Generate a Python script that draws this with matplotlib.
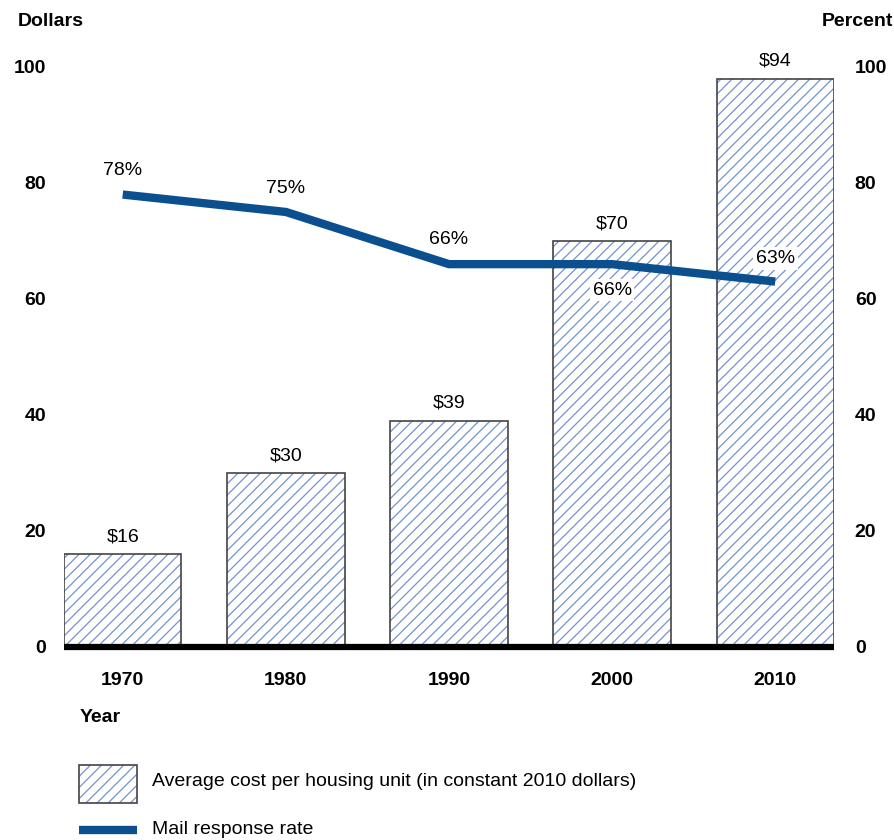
import matplotlib.pyplot as plt
from matplotlib.patches import Rectangle
from matplotlib.lines import Line2D

plt.rcParams['font.family'] = ['Liberation Sans', 'DejaVu Sans']
plt.rcParams['hatch.linewidth'] = 0.9

years = ['1970', '1980', '1990', '2000', '2010']
# bar tops as drawn in the original (the 2010 bar reaches ~98 though labelled $94)
cost_bar = [16, 30, 39, 70, 98]
cost_labels = ['$16', '$30', '$39', '$70', '$94']
response = [78, 75, 66, 66, 63]
response_labels = ['78%', '75%', '66%', '66%', '63%']
y_ticks = [0, 20, 40, 60, 80, 100]

blau = '#0b4f8f'
hatch_col = '#7393cc'

fig = plt.figure(figsize=(8.95, 8.4), dpi=100)
ax = fig.add_axes([0.0715, 0.2298, 0.8603, 0.6905])
x = list(range(len(years)))

# hatch in blue, outline in gray
ax.bar(x, cost_bar, width=0.72, color='white', edgecolor=hatch_col, hatch='///', linewidth=0, zorder=2)
ax.bar(x, cost_bar, width=0.72, fill=False, edgecolor='#444444', linewidth=1.2, zorder=3)

for xi, h, lab in zip(x, cost_bar, cost_labels):
    ax.text(xi, h + 3.0, lab, ha='center', va='center', fontsize=14, zorder=5)

ax.plot(x, response, color=blau, linewidth=6, solid_capstyle='butt', zorder=4)

# percent labels (same 0-100 scale on both sides)
offs = [4.2, 4.0, 4.2, -4.5, 4.0]
for xi, v, lab, dy in zip(x, response, response_labels, offs):
    t = ax.text(xi, v + dy, lab, ha='center', va='center', fontsize=14, zorder=5)
    if xi >= 3:
        t.set_bbox(dict(facecolor='white', edgecolor='none', pad=2))

ax.axhline(0, color='black', linewidth=4.5, zorder=6, clip_on=False, solid_capstyle='butt')

ax.set_xlim(-0.36, 4.36)
ax.set_ylim(0, 100)
ax.set_xticks(x)
ax.set_xticklabels(years, fontsize=14, fontweight='bold')
ax.set_yticks(y_ticks)
ax.set_yticklabels([str(t) for t in y_ticks], fontsize=14, fontweight='bold')
ax.tick_params(length=0, axis='x', pad=18)
ax.tick_params(length=0, axis='y', pad=13)
for s in ax.spines.values():
    s.set_visible(False)

ax2 = ax.twinx()
ax2.set_ylim(0, 100)
ax2.set_yticks(y_ticks)
ax2.set_yticklabels([str(t) for t in y_ticks], fontsize=14, fontweight='bold')
ax2.tick_params(length=0, pad=15)
for s in ax2.spines.values():
    s.set_visible(False)

fig.text(18 / 895, 1 - 22 / 840, 'Dollars', fontsize=14, fontweight='bold', va='center', ha='left')
fig.text(822 / 895, 1 - 22 / 840, 'Percent', fontsize=14, fontweight='bold', va='center', ha='left')
fig.text(80 / 895, 1 - 718 / 840, 'Year', fontsize=14, fontweight='bold', va='center', ha='left')

# legend drawn by hand at the bottom
leg_bg = Rectangle((79 / 895, 1 - 803 / 840), 58 / 895, 38 / 840, transform=fig.transFigure,
                   facecolor='white', edgecolor=hatch_col, hatch='///', linewidth=0)
leg_ed = Rectangle((79 / 895, 1 - 803 / 840), 58 / 895, 38 / 840, transform=fig.transFigure,
                   fill=False, edgecolor='#444444', linewidth=1.2)
fig.add_artist(leg_bg)
fig.add_artist(leg_ed)
fig.text(152 / 895, 1 - 782 / 840, 'Average cost per housing unit (in constant 2010 dollars)',
         fontsize=14, va='center', ha='left')
fig.add_artist(Line2D([79 / 895, 137 / 895], [1 - 830 / 840, 1 - 830 / 840],
                      transform=fig.transFigure, color=blau, linewidth=6, solid_capstyle='butt'))
fig.text(152 / 895, 1 - 830 / 840, 'Mail response rate', fontsize=14, va='center', ha='left')

plt.savefig('out.png', dpi=100)
